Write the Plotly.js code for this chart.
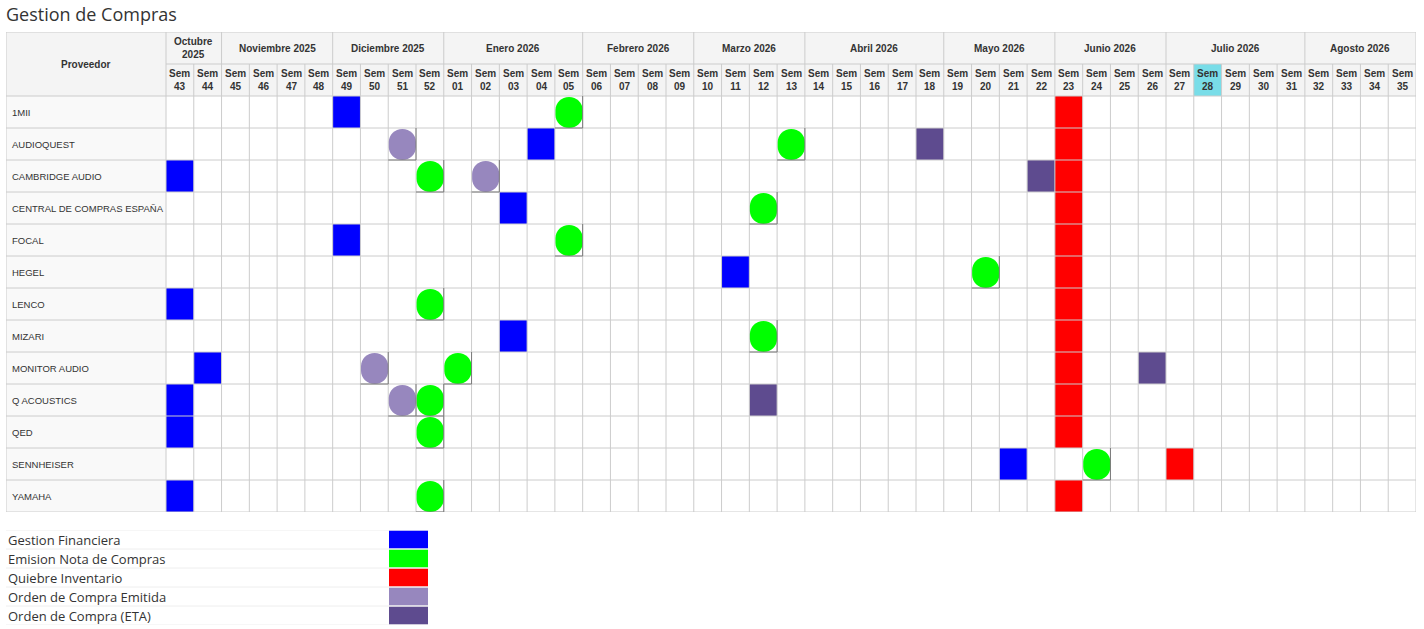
<!DOCTYPE html>
<html>
<head>
<meta charset="utf-8">
<script src="https://cdn.plot.ly/plotly-3.0.1.min.js"></script>
<style>html,body{margin:0;padding:0;background:#fff;}#chart{width:1424px;height:629px;}</style>
</head>
<body>
<div id="chart"></div>
<script>
// ---------- DATA ----------
const providers = ['1MII','AUDIOQUEST','CAMBRIDGE AUDIO','CENTRAL DE COMPRAS ESPAÑA','FOCAL','HEGEL','LENCO','MIZARI','MONITOR AUDIO','Q ACOUSTICS','QED','SENNHEISER','YAMAHA'];
const weeks = ['43','44','45','46','47','48','49','50','51','52','01','02','03','04','05','06','07','08','09','10','11','12','13','14','15','16','17','18','19','20','21','22','23','24','25','26','27','28','29','30','31','32','33','34','35'];
const months = ['Octubre<br>2025','Noviembre 2025','Diciembre 2025','Enero 2026','Febrero 2026','Marzo 2026','Abril 2026','Mayo 2026','Junio 2026','Julio 2026','Agosto 2026'];
const monthWeeks = [2,4,4,5,4,4,5,4,4,5,4];
const currentWeek = '28';

// one week per provider (null = none)
const gestionFinanciera   = ['49','04','43','03','49','11','43','03','44','43','43','21','43'];
const emisionNotaCompras  = ['05','13','52','12','05','20','52','12','01','52','52','24','52'];
const quiebreInventario   = ['23','23','23','23','23','23','23','23','23','23','23','27','23'];
const ordenCompraEmitida  = [null,'51','02',null,null,null,null,null,'50','51',null,null,null];
const ordenCompraETA      = [null,'18','22',null,null,null,null,null,'26','12',null,null,null];

const legendLabels = ['Gestion Financiera','Emision Nota de Compras','Quiebre Inventario','Orden de Compra Emitida','Orden de Compra (ETA)'];
const legendColors = ['#0000ff','#00ff00','#ff0000','#9787be','#5e4b8f'];

// ---------- LAYOUT CONSTANTS ----------
const W = 1424, H = 629;
const COLW = 1250 / weeks.length;         // px per week column
const LABEL = 160 / COLW;                 // provider column width in week units
const nR = providers.length, nW = weeks.length;
const GRID = '#cccccc';
const TXT = '#333333';
const ARIAL = 'Liberation Sans, Arial, sans-serif';
const OPEN = 'Open Sans, sans-serif';

const shapes = [];
const annotations = [];
const rect = (x0,x1,y0,y1,fill,xr='x',yr='y') => shapes.push({type:'rect',xref:xr,yref:yr,x0,x1,y0,y1,fillcolor:fill,line:{width:0},layer:'above'});
const line = (x0,x1,y0,y1,color=GRID,xr='x',yr='y') => shapes.push({type:'line',xref:xr,yref:yr,x0,x1,y0,y1,line:{color,width:1},layer:'above'});

// backgrounds
rect(-LABEL, nW, -2, 0, '#f4f4f4');
rect(-LABEL, 0, 0, nR, '#f9f9f9');
const cw = weeks.indexOf(currentWeek);
rect(cw, cw+1, -1, 0, '#79dde8');

// rectangular marks
function addRects(arr, color){
  arr.forEach((w,r)=>{ if(w===null) return; const c = weeks.indexOf(w); rect(c, c+1, r, r+1, color); });
}
addRects(gestionFinanciera, legendColors[0]);
addRects(quiebreInventario, legendColors[2]);
addRects(ordenCompraETA, legendColors[4]);

// grid
const monthStarts = [];
let acc = 0; monthWeeks.forEach(n=>{monthStarts.push(acc); acc+=n;});
line(-LABEL, nW, -2, -2);
line(0, nW, -1, -1);
for(let r=0;r<=nR;r++) line(-LABEL, nW, r, r);
line(-LABEL, -LABEL, -2, nR);
for(let c=0;c<=nW;c++){
  const top = (c===0 || c===nW || monthStarts.includes(c)) ? -2 : -1;
  line(c, c, top, nR);
}

// rounded marks
function addRounds(arr, color){
  arr.forEach((w,r)=>{
    if(w===null) return;
    const c = weeks.indexOf(w);
    const x0=c+0.02, x1=c+1, y0=r+0.03, y1=r+1;
    const kx=(x1-x0)/2, ky=13/32, k=0.5523;
    const p = `M ${x0},${y0+ky} C ${x0},${y0+ky*(1-k)} ${x0+kx*(1-k)},${y0} ${x0+kx},${y0} `+
              `C ${x1-kx*(1-k)},${y0} ${x1},${y0+ky*(1-k)} ${x1},${y0+ky} `+
              `L ${x1},${y1-ky} C ${x1},${y1-ky*(1-k)} ${x1-kx*(1-k)},${y1} ${x1-kx},${y1} `+
              `C ${x0+kx*(1-k)},${y1} ${x0},${y1-ky*(1-k)} ${x0},${y1-ky} Z`;
    shapes.push({type:'path',xref:'x',yref:'y',path:p,fillcolor:color,line:{width:0},layer:'above'});
    shapes.push({type:'path',xref:'x',yref:'y',path:`M ${c+1},${r} L ${c+1},${r+1} L ${c},${r+1}`,line:{color:'#7a7a7a',width:1},layer:'above'});
  });
}
addRounds(emisionNotaCompras, legendColors[1]);
addRounds(ordenCompraEmitida, legendColors[3]);

// header text
const bold = {family:ARIAL,size:10,color:TXT,weight:'bold'};
months.forEach((m,i)=>{
  annotations.push({xref:'x',yref:'y',x:monthStarts[i]+monthWeeks[i]/2,y:-1.5,text:m,showarrow:false,font:bold,xanchor:'center',yanchor:'middle'});
});
weeks.forEach((w,i)=>{
  annotations.push({xref:'x',yref:'y',x:i+0.5,y:-0.5,text:'Sem<br>'+w,showarrow:false,font:bold,xanchor:'center',yanchor:'middle'});
});
annotations.push({xref:'x',yref:'y',x:-LABEL/2,y:-1,text:'Proveedor',showarrow:false,font:bold,xanchor:'center',yanchor:'middle'});
providers.forEach((p,r)=>{
  annotations.push({xref:'x',yref:'y',x:-LABEL,xshift:4,y:r+0.5,text:p,showarrow:false,font:{family:ARIAL,size:9.5,color:TXT},xanchor:'left',yanchor:'middle'});
});

// legend table (subplot 2, x in px-like units 0..422)
legendLabels.forEach((lab,i)=>{
  rect(383, 422, i+0.03, i+0.97, legendColors[i], 'x2', 'y2');
  annotations.push({xref:'x2',yref:'y2',x:0,xshift:0,y:i+0.5,text:lab,showarrow:false,font:{family:OPEN,size:13,color:TXT},xanchor:'left',yanchor:'middle'});
});
for(let i=0;i<=legendLabels.length;i++) line(0, 422, i, i, '#eeeeee', 'x2', 'y2');

const data = [
  {type:'scatter',x:[0],y:[0],mode:'markers',marker:{opacity:0},hoverinfo:'skip',showlegend:false,xaxis:'x',yaxis:'y'},
  {type:'scatter',x:[0],y:[0],mode:'markers',marker:{opacity:0},hoverinfo:'skip',showlegend:false,xaxis:'x2',yaxis:'y2'}
];

const layout = {
  width:W, height:H,
  margin:{l:0,r:0,t:0,b:0},
  paper_bgcolor:'#ffffff', plot_bgcolor:'rgba(0,0,0,0)',
  showlegend:false,
  title:{text:'Gestion de Compras',x:6/W,xanchor:'left',y:1-15/H,yanchor:'middle',font:{family:OPEN,size:18,color:'#333333'}},
  xaxis:{domain:[6/W,1416/W],range:[-LABEL,nW],visible:false,fixedrange:true},
  yaxis:{domain:[1-512/H,1-32/H],range:[nR,-2],visible:false,fixedrange:true},
  xaxis2:{domain:[6/W,428/W],range:[0,422],visible:false,anchor:'y2',fixedrange:true},
  yaxis2:{domain:[1-625/H,1-530/H],range:[legendLabels.length,0],visible:false,anchor:'x2',fixedrange:true},
  shapes, annotations
};
Plotly.newPlot('chart', data, layout, {displayModeBar:false, staticPlot:true});
</script>
</body>
</html>
